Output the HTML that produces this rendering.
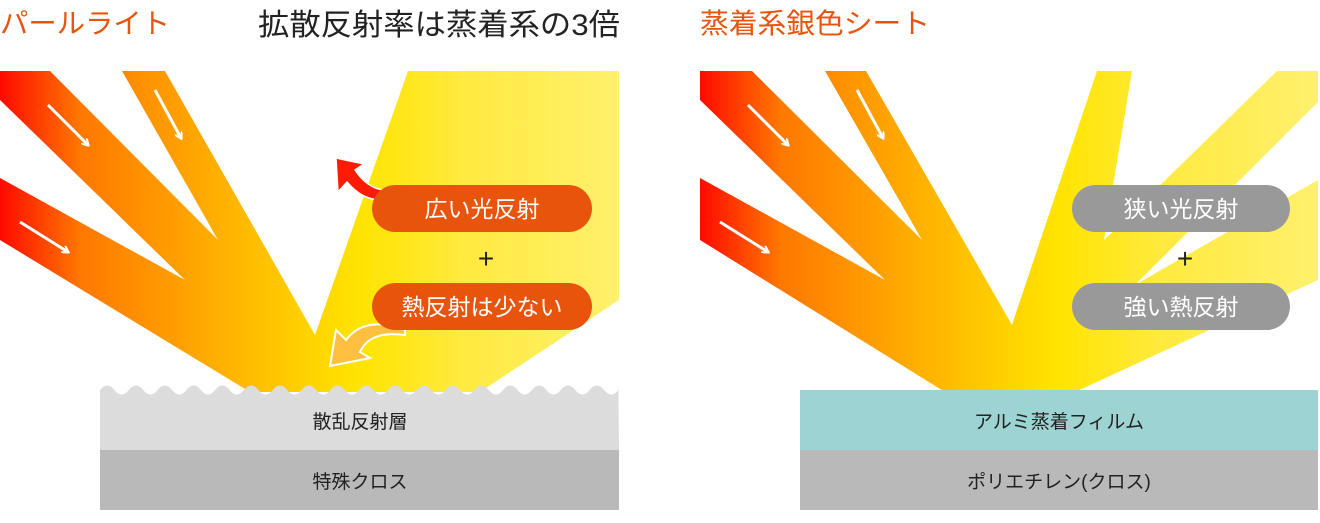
<!DOCTYPE html>
<html><head><meta charset="utf-8"><style>
html,body{margin:0;padding:0;background:#fff;}
body{width:1320px;height:518px;overflow:hidden;}
svg text{font-family:"Liberation Sans","Noto Sans CJK JP",sans-serif;}
</style></head><body>
<svg width="1320" height="518" viewBox="0 0 1320 518" xmlns="http://www.w3.org/2000/svg">
<defs>
<linearGradient id="gL" gradientUnits="userSpaceOnUse" x1="0" y1="0" x2="619" y2="0">
<stop offset="0" stop-color="#ff0a00"/><stop offset="0.13" stop-color="#ff7800"/><stop offset="0.33" stop-color="#ffaa00"/><stop offset="0.5" stop-color="#ffd300"/><stop offset="0.58" stop-color="#ffe400"/><stop offset="0.75" stop-color="#ffea40"/><stop offset="1" stop-color="#fff06e"/>
</linearGradient>
<linearGradient id="gR" gradientUnits="userSpaceOnUse" x1="700" y1="0" x2="1318" y2="0">
<stop offset="0" stop-color="#ff0a00"/><stop offset="0.13" stop-color="#ff7800"/><stop offset="0.33" stop-color="#ffaa00"/><stop offset="0.5" stop-color="#ffd300"/><stop offset="0.58" stop-color="#ffe400"/><stop offset="0.75" stop-color="#ffea40"/><stop offset="1" stop-color="#fff06e"/>
</linearGradient>
<marker id="ah" markerWidth="8" markerHeight="8" refX="6" refY="4" orient="auto" markerUnits="userSpaceOnUse"><path d="M0,0 L7,4 L0,8" fill="none" stroke="#fff" stroke-width="2"/></marker>
</defs>

<!-- titles -->
<text x="0" y="33" font-size="28" fill="#e8540c" textLength="170" lengthAdjust="spacingAndGlyphs">パールライト</text>
<text x="258" y="35" font-size="30" fill="#222" textLength="362" lengthAdjust="spacingAndGlyphs">拡散反射率は蒸着系の3倍</text>
<text x="700" y="33" font-size="28" fill="#e8540c" textLength="230" lengthAdjust="spacingAndGlyphs">蒸着系銀色シート</text>

<!-- left beams -->
<path d="M0,71 L50,71 L218,240 L122,71 L165,71 L315,335 L408,71 L619,71 L619,300 L480,392 L250,392 L0,240 L0,178 L185,280 L0,100 Z" fill="url(#gL)"/>
<g stroke="#fff" stroke-width="3" marker-end="url(#ah)" fill="none">
<line x1="48" y1="105" x2="88" y2="145"/>
<line x1="155" y1="90" x2="181" y2="138"/>
<line x1="20" y1="222" x2="68" y2="252"/>
<line x1="748" y1="105" x2="788" y2="145"/>
<line x1="857" y1="90" x2="883" y2="138"/>
<line x1="720" y1="222" x2="768" y2="252"/>
</g>

<!-- left layers -->
<path d="M100,390 q7.2,-9 14.4,0 t14.4,0 t14.4,0 t14.4,0 t14.4,0 t14.4,0 t14.4,0 t14.4,0 t14.4,0 t14.4,0 t14.4,0 t14.4,0 t14.4,0 t14.4,0 t14.4,0 t14.4,0 t14.4,0 t14.4,0 t14.4,0 t14.4,0 t14.4,0 t14.4,0 t14.4,0 t14.4,0 t14.4,0 t14.4,0 t14.4,0 t14.4,0 t14.4,0 t14.4,0 t14.4,0 t14.4,0 t14.4,0 t14.4,0 t14.4,0 t14.4,0 L619,450 L100,450 Z" fill="#dcdcdc"/>
<rect x="100" y="450" width="519" height="60" fill="#b9b9b9"/>
<text x="360" y="428" font-size="19" fill="#222" text-anchor="middle">散乱反射層</text>
<text x="360" y="488" font-size="19" fill="#222" text-anchor="middle">特殊クロス</text>

<!-- curved arrows left -->
<path d="M408,186 Q375,200 355,170 L364,164 L336,158 L338,192 L347,182 Q372,212 408,192 Z" fill="#ff1a00" stroke="#fff" stroke-width="1.5"/>
<path d="M405,335 Q370,330 360,352 L370,358 L330,366 L336,330 L346,340 Q365,315 405,330 Z" fill="#ffbf40" stroke="#fff" stroke-width="2"/>

<!-- left pills -->
<rect x="372" y="185" width="220" height="47" rx="23.5" fill="#e8540c"/>
<text x="482" y="217" font-size="23" fill="#fff" text-anchor="middle">広い光反射</text>
<text x="486" y="268" font-size="28" fill="#222" text-anchor="middle">+</text>
<rect x="372" y="283" width="220" height="47" rx="23.5" fill="#e8540c"/>
<text x="482" y="315" font-size="23" fill="#fff" text-anchor="middle">熱反射は少ない</text>

<!-- right beams -->
<path d="M700,71 L752,71 L922,240 L825,71 L866,71 L1012,325 L1097,71 L1132,71 L1104,240 L1277,71 L1318,71 L1318,102 L1135,285 L1318,180 L1318,280 L1075,392 L945,392 L700,240 L700,178 L885,280 L700,100 Z" fill="url(#gR)"/>
<g stroke="#fff" stroke-width="3" marker-end="url(#ah)" fill="none">
<line x1="748" y1="105" x2="788" y2="145"/>
<line x1="857" y1="90" x2="883" y2="138"/>
<line x1="720" y1="222" x2="768" y2="252"/>
</g>
<rect x="800" y="390" width="518" height="60" fill="#9ed3d3"/>
<rect x="800" y="450" width="518" height="60" fill="#b9b9b9"/>
<text x="1059" y="428" font-size="19" fill="#222" text-anchor="middle">アルミ蒸着フィルム</text>
<text x="1059" y="488" font-size="19" fill="#222" text-anchor="middle">ポリエチレン(クロス)</text>

<rect x="1072" y="185" width="218" height="47" rx="23.5" fill="#999"/>
<text x="1181" y="217" font-size="23" fill="#fff" text-anchor="middle">狭い光反射</text>
<text x="1185" y="268" font-size="28" fill="#222" text-anchor="middle">+</text>
<rect x="1072" y="283" width="218" height="47" rx="23.5" fill="#999"/>
<text x="1181" y="315" font-size="23" fill="#fff" text-anchor="middle">強い熱反射</text>
</svg>
</body></html>
